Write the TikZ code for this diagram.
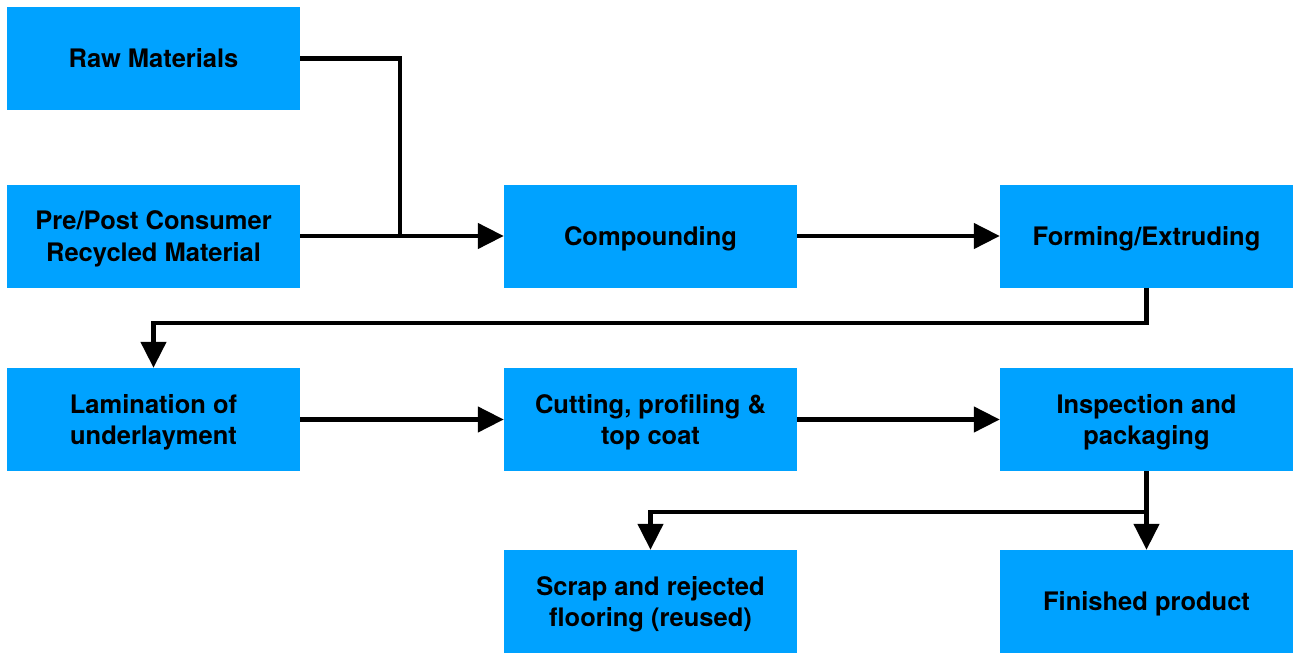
\documentclass[tikz,border=0pt]{standalone}
\usepackage{fontspec}
\setmainfont{TeX Gyre Heros}
\usetikzlibrary{arrows.meta}
\definecolor{boxblue}{HTML}{00A2FF}
\begin{document}
\begin{tikzpicture}[x=1pt,y=-1pt,
  box/.style={fill=boxblue,draw=none,minimum width=293pt,minimum height=103pt,inner sep=0pt,align=center,font=\fontsize{25.5}{31.5}\selectfont\bfseries,text height=18.5pt,text depth=0pt},
  boxtwo/.style={box,text height=50pt},
  conn/.style={line width=4.5pt,draw=black},
  arr/.style={conn,-{Triangle[length=26pt,width=25pt]}}]
\useasboundingbox (0,0) rectangle (1293,653);
\node[box] (raw) at (153.5,58.5) {Raw Materials};
\node[boxtwo] (rec) at (153.5,236) {Pre/Post Consumer\\Recycled Material};
\node[box] (comp) at (650.5,236) {Compounding};
\node[box] (form) at (1146.5,236) {Forming/Extruding};
\node[boxtwo] (lam) at (153.5,419.5) {Lamination of\\underlayment};
\node[boxtwo] (cut) at (650.5,419.5) {Cutting, profiling \&\\top coat};
\node[boxtwo] (insp) at (1146.5,419.5) {Inspection and\\packaging};
\node[boxtwo] (scrap) at (650.5,601.5) {Scrap and rejected\\flooring (reused)};
\node[box] (fin) at (1146.5,601.5) {Finished product};
\coordinate (j1) at (400,236);
\coordinate (j2) at (1146.5,512);
\draw[conn] (raw.east) -| (j1);
\draw[arr] (rec.east) -- (comp.west);
\draw[arr] (comp.east) -- (form.west);
\draw[arr] (form.south) |- (153.5,323) -- (lam.north);
\draw[arr] (lam.east) -- (cut.west);
\draw[arr] (cut.east) -- (insp.west);
\draw[arr] (insp.south) -- (fin.north);
\draw[arr] (j2) -| (scrap.north);
\end{tikzpicture}
\end{document}
